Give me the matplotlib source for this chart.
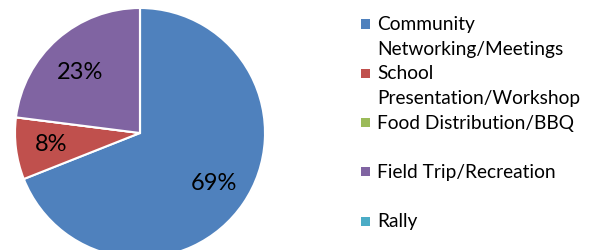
import matplotlib as mpl
import matplotlib.pyplot as plt
from matplotlib.patches import Rectangle

mpl.rcParams.update({
    "font.family": ["Lato", "DejaVu Sans"],
    "figure.facecolor": "white",
})

# ---------- data ----------
categories = [
    "Community\nNetworking/Meetings",
    "School\nPresentation/Workshop",
    "Food Distribution/BBQ",
    "Field Trip/Recreation",
    "Rally",
]
shares = [69, 8, 0, 23, 0]
colors = ["#4F81BD", "#C0504D", "#9BBB59", "#8064A2", "#4BACC6"]


def _pct(p):
    return f"{p:.0f}%" if p > 0.5 else ""


W, H = 600, 250
fig = plt.figure(figsize=(W / 100, H / 100), dpi=100)

# pie centre (140, 133) px, radius 125 px
cx, cy, r = 140, 133, 125
ax = fig.add_axes([(cx - r) / W, (H - cy - r) / H, 2 * r / W, 2 * r / H])
wedges, texts, autotexts = ax.pie(
    shares, colors=colors, startangle=90, counterclock=False,
    autopct=_pct, pctdistance=0.72,
    wedgeprops=dict(edgecolor="white", linewidth=1.5),
    textprops=dict(fontsize=17, color="#000000"),
)
# Excel's best-fit puts the purple label a little lower than the wedge midpoint
x, y = autotexts[3].get_position()
autotexts[3].set_position((x, y - 0.06))
ax.set_xlim(-1, 1); ax.set_ylim(-1, 1)
ax.set_aspect("equal")
ax.axis("off")

# legend drawn by hand so the entries keep Excel's even spacing
lx, ly0, step = 361, 24, 49.3
for i, (lab, col) in enumerate(zip(categories, colors)):
    y = ly0 + i * step
    fig.patches.append(Rectangle((lx / W, 1 - (y + 4.5) / H), 9 / W, 9 / H,
                                 transform=fig.transFigure, facecolor=col,
                                 edgecolor="none"))
    fig.text((lx + 16) / W, 1 - (y - 8) / H, lab, fontsize=13.8, color="#000000",
             va="top", ha="left", linespacing=1.55)

fig.savefig("out.png", dpi=100)
